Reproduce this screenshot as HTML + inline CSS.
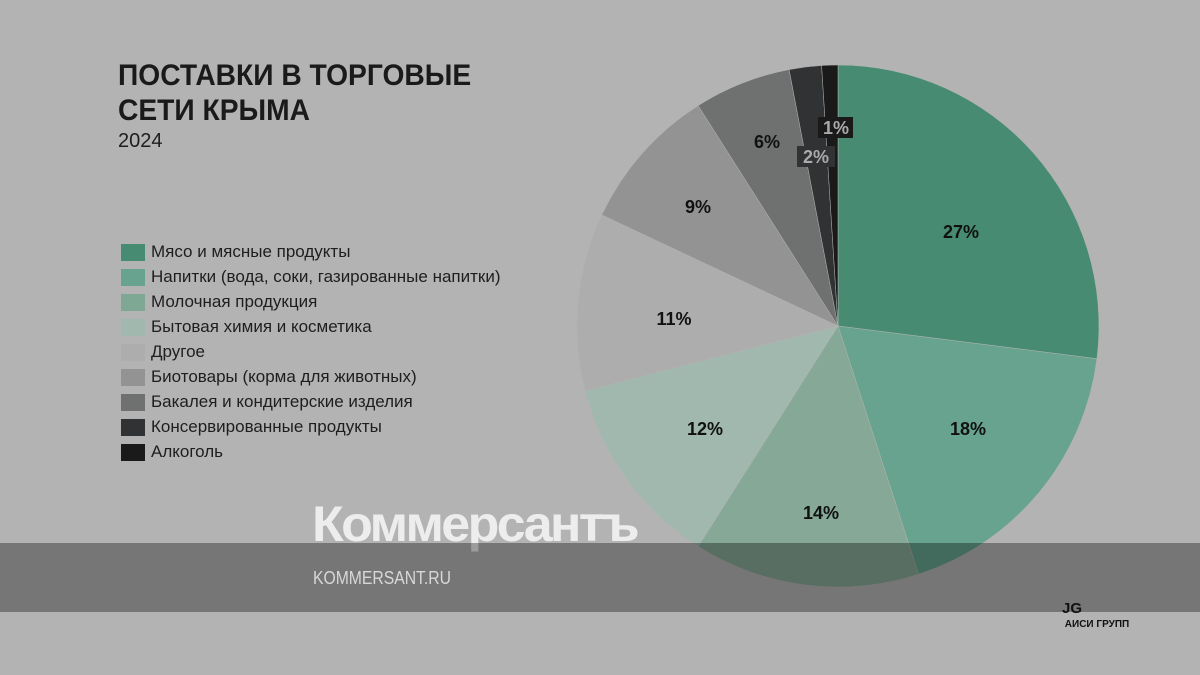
<!DOCTYPE html>
<html><head><meta charset="utf-8"><style>
body{margin:0;width:1200px;height:675px;background:#b3b3b3;overflow:hidden;position:relative;font-family:"Liberation Sans","Noto Sans CJK SC",sans-serif}
.t{position:absolute;left:118px;top:58px;font-size:30px;font-weight:bold;color:#1a1a1a;line-height:35px;transform:scaleX(0.94);transform-origin:0 0;white-space:nowrap}
.y{position:absolute;left:118px;top:130px;font-size:20px;color:#1e1e1e}
.lg{position:absolute;left:121px;top:242px;font-size:17px;color:#1e1e1e}
.lg div{height:25px;line-height:20px;position:relative;padding-left:30px;white-space:nowrap}
.lg span{position:absolute;left:0;top:2px;width:24px;height:17px}
</style></head><body>
<svg width="1200" height="675" style="position:absolute;left:0;top:0">
<g stroke="#b3b3b3" stroke-width="0.5">
<path d="M838 326 L838 65 A261 261 0 0 1 1096.9 358.7Z" fill="#468b72"/>
<path d="M838 326 L1096.9 358.7 A261 261 0 0 1 918.6 574.2Z" fill="#67a38e"/>
<path d="M838 326 L918.6 574.2 A261 261 0 0 1 698.2 546.4Z" fill="#86a896"/>
<path d="M838 326 L698.2 546.4 A261 261 0 0 1 585.2 390.9Z" fill="#a0b8ae"/>
<path d="M838 326 L585.2 390.9 A261 261 0 0 1 601.8 214.9Z" fill="#adadad"/>
<path d="M838 326 L601.8 214.9 A261 261 0 0 1 698.2 105.6Z" fill="#939393"/>
<path d="M838 326 L698.2 105.6 A261 261 0 0 1 789.1 69.6Z" fill="#6f7070"/>
<path d="M838 326 L789.1 69.6 A261 261 0 0 1 821.6 65.5Z" fill="#303233"/>
<path d="M838 326 L821.6 65.5 A261 261 0 0 1 838 65Z" fill="#1a1a1a"/>
</g>
<g font-family="Liberation Sans,sans-serif" font-weight="bold" font-size="18" fill="#111" text-anchor="middle">
<text x="961" y="238">27%</text>
<text x="968" y="435">18%</text>
<text x="821" y="519">14%</text>
<text x="705" y="435">12%</text>
<text x="674" y="325">11%</text>
<text x="698" y="213">9%</text>
<text x="767" y="148">6%</text>
<rect x="797" y="146" width="38" height="21" fill="#303233"/>
<text x="816" y="163" fill="#aaa">2%</text>
<rect x="818" y="117" width="35" height="21" fill="#1a1a1a"/>
<text x="836" y="134" fill="#aaa">1%</text>
</g>
<text x="312" y="541" font-family="Liberation Sans,sans-serif" font-weight="bold" font-size="50" fill="#ededed" letter-spacing="-2.5" textLength="325" lengthAdjust="spacingAndGlyphs">Коммерсантъ</text>
<rect x="0" y="543" width="1200" height="69" fill="rgba(0,0,0,0.34)"/>
<text x="313" y="584" font-family="Liberation Sans,sans-serif" font-size="18" fill="#d8d8d8" textLength="138" lengthAdjust="spacingAndGlyphs">KOMMERSANT.RU</text>
<text x="1072" y="613" font-family="Liberation Sans,sans-serif" font-weight="bold" font-size="15" fill="#111" text-anchor="middle">ЈG</text>
<text x="1097" y="627" font-family="Liberation Sans,sans-serif" font-weight="bold" font-size="10" fill="#111" text-anchor="middle">АИСИ ГРУПП</text>
</svg>
<div class="t">ПОСТАВКИ В ТОРГОВЫЕ<br>СЕТИ КРЫМА</div>
<div class="y">2024</div>
<div class="lg">
<div><span style="background:#468b72"></span>Мясо и мясные продукты</div>
<div><span style="background:#67a38e"></span>Напитки (вода, соки, газированные напитки)</div>
<div><span style="background:#7ea894"></span>Молочная продукция</div>
<div><span style="background:#a0b8ae"></span>Бытовая химия и косметика</div>
<div><span style="background:#adadad"></span>Другое</div>
<div><span style="background:#939393"></span>Биотовары (корма для животных)</div>
<div><span style="background:#6f7070"></span>Бакалея и кондитерские изделия</div>
<div><span style="background:#303233"></span>Консервированные продукты</div>
<div><span style="background:#1a1a1a"></span>Алкоголь</div>
</div>
</body></html>
